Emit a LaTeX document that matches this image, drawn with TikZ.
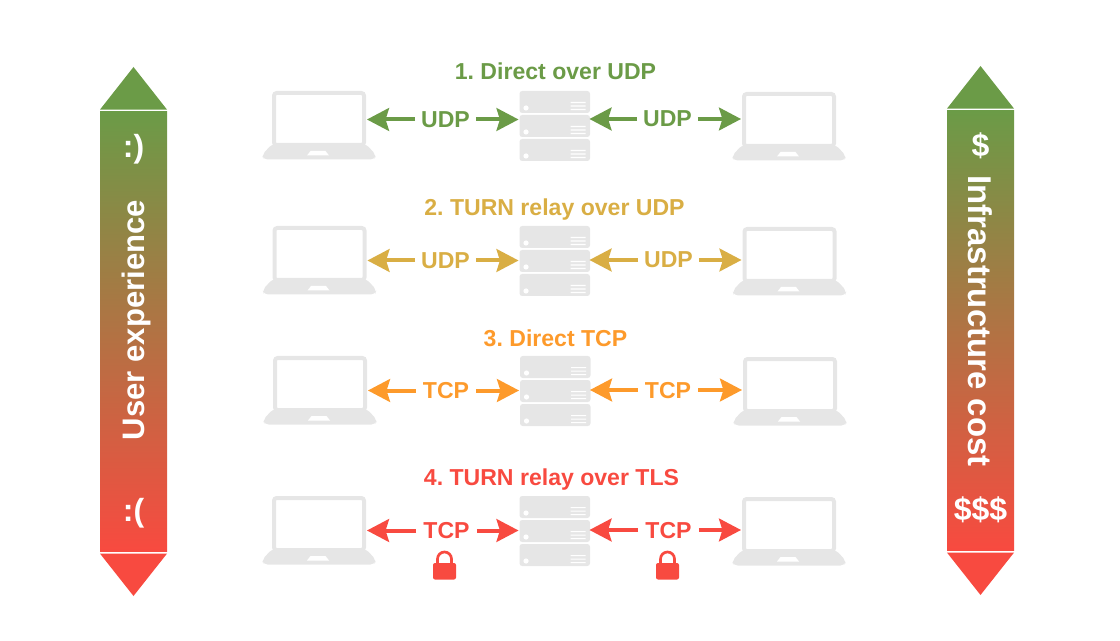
\documentclass[tikz,border=0pt]{standalone}
\usepackage{fontspec}
\setmainfont{Liberation Sans}
\usepackage{tikz}
\usetikzlibrary{calc}
\usetikzlibrary{arrows.meta}
\definecolor{cGreen}{HTML}{6B9B47}
\definecolor{cYellow}{HTML}{D9AE44}
\definecolor{cOrange}{HTML}{FD9A2B}
\definecolor{cRed}{HTML}{F84A40}
\definecolor{cGray}{HTML}{E6E6E6}
\tikzset{
  iconslot/.style={inner sep=0pt, outer sep=0pt},
  linkarrow/.style={line width=3pt, -{Stealth[length=16.5pt,width=17pt,inset=2.5pt]}, shorten >=0.7pt},
  linklabel/.style={font=\bfseries\fontsize{17.3}{20}\selectfont, minimum width=45pt, inner xsep=0pt, inner ysep=0pt, text depth=0pt},
  rowtitle/.style={font=\bfseries\fontsize{17.3}{20}\selectfont, inner sep=0pt, text depth=0pt},
  bartext/.style={font=\bfseries\fontsize{24}{28}\selectfont, text=white, inner sep=0pt},
}
\newcommand{\laptopicon}[3]{ \begin{scope}[shift={(#1,#2)}]
  \node[iconslot, minimum width=70.5pt, minimum height=40.5pt] (#3) at (57,27) {};
  \draw[cGray, line width=3pt, rounded corners=2pt] (12,2) rectangle (102,54);
  \fill[cGray, rounded corners=3pt] (10,53) -- (104,53) -- (114,64) -- (112.5,68.5) -- (1.5,68.5) -- (0,64) -- cycle;
  \fill[white] (48.5,60) -- (63.5,60) -- (67,64.5) -- (45,64.5) -- cycle;
  \end{scope}}
\newcommand{\serverbox}[1]{ \fill[cGray, rounded corners=2pt] (0,#1) rectangle (70.5,#1+22);
  \fill[white] (6.5,#1+17) circle (2.6);
  \fill[white] (51,#1+11) rectangle (66,#1+12.2) (51,#1+14.5) rectangle (66,#1+15.7) (51,#1+18) rectangle (66,#1+19.2);}
\newcommand{\servericon}[3]{ \begin{scope}[shift={(#1,#2)}]
  \node[iconslot, minimum width=51.75pt, minimum height=16.5pt] (#3) at (34.5,35) {};
  \serverbox{0}
  \serverbox{24}
  \serverbox{48}
  \end{scope}}
\newcommand{\lockicon}[2]{ \begin{scope}[shift={(#1,#2)}]
  \fill[cRed, rounded corners=1.5pt] (0,12) rectangle (23,28.5);
  \draw[cRed, line width=2pt] (4.5,13) -- (4.5,8) arc (180:360:7) -- (18.5,13);
  \end{scope}}
\frenchspacing
\begin{document}
\begin{tikzpicture}[x=0.75pt, y=-0.75pt]
\useasboundingbox (0,0) rectangle (1120,641);
% left bar
\fill[cGreen] (100,109.6) -- (133.5,67) -- (167,109.6) -- cycle;
\shade[top color=cGreen, bottom color=cRed] (100,111.6) rectangle (167,551.6);
\fill[cRed] (100,553.6) -- (167,553.6) -- (133.5,596) -- cycle;
\node[bartext] (smileTop) at (133.5,149) {:)};
\node[bartext, rotate=90, font=\bfseries\fontsize{23.3}{28}\selectfont] (userExp) at (136,320) {User experience};
\node[bartext] (smileLow) at (133.5,513) {:(};
% right bar
\fill[cGreen] (947,108.6) -- (980.5,66) -- (1014,108.6) -- cycle;
\shade[top color=cGreen, bottom color=cRed] (947,110.6) rectangle (1014,550.6);
\fill[cRed] (947,552.6) -- (1014,552.6) -- (980.5,595) -- cycle;
\node[bartext] (costLow) at (980.5,146) {\$};
\node[bartext, rotate=-90, font=\bfseries\fontsize{24.7}{28}\selectfont] (infraCost) at (980.5,321) {Infrastructure cost};
\node[bartext] (costHigh) at (980.5,510) {\$\$\$};
% row1
\node[rowtitle, text=cGreen] (titleA) at (555.5,71) {1. Direct over UDP};
\laptopicon{262}{91}{lapAL}
\servericon{519.5}{91}{srvA}
\laptopicon{732}{92}{lapAR}
\node[linklabel, text=cGreen] (udpAL) at (445.5,119.5) {UDP};
\node[linklabel, text=cGreen] (udpAR) at (667.5,119) {UDP};
\draw[linkarrow, cGreen] (udpAL.west) -- (lapAL.east |- udpAL.west);
\draw[linkarrow, cGreen] (udpAL.east) -- (srvA.west |- udpAL.east);
\draw[linkarrow, cGreen] (udpAR.west) -- (srvA.east |- udpAR.west);
\draw[linkarrow, cGreen] (udpAR.east) -- (lapAR.west |- udpAR.east);
% row2
\node[rowtitle, text=cYellow] (titleB) at (554.5,207) {2. TURN relay over UDP};
\laptopicon{262.5}{226}{lapBL}
\servericon{519.5}{226}{srvB}
\laptopicon{732.5}{227}{lapBR}
\node[linklabel, text=cYellow] (udpBL) at (445.5,260.5) {UDP};
\node[linklabel, text=cYellow] (udpBR) at (668.5,260) {UDP};
\draw[linkarrow, cYellow] (udpBL.west) -- (lapBL.east |- udpBL.west);
\draw[linkarrow, cYellow] (udpBL.east) -- (srvB.west |- udpBL.east);
\draw[linkarrow, cYellow] (udpBR.west) -- (srvB.east |- udpBR.west);
\draw[linkarrow, cYellow] (udpBR.east) -- (lapBR.west |- udpBR.east);
% row3
\node[rowtitle, text=cOrange] (titleC) at (555.5,338) {3. Direct TCP};
\laptopicon{263}{356}{lapCL}
\servericon{520}{356}{srvC}
\laptopicon{733}{357}{lapCR}
\node[linklabel, text=cOrange] (tcpCL) at (446,390.5) {TCP};
\node[linklabel, text=cOrange] (tcpCR) at (668,390) {TCP};
\draw[linkarrow, cOrange] (tcpCL.west) -- (lapCL.east |- tcpCL.west);
\draw[linkarrow, cOrange] (tcpCL.east) -- (srvC.west |- tcpCL.east);
\draw[linkarrow, cOrange] (tcpCR.west) -- (srvC.east |- tcpCR.west);
\draw[linkarrow, cOrange] (tcpCR.east) -- (lapCR.west |- tcpCR.east);
% row4
\node[rowtitle, text=cRed] (titleD) at (551.5,477) {4. TURN relay over TLS};
\laptopicon{262}{496}{lapDL}
\servericon{519.5}{496}{srvD}
\laptopicon{732}{497}{lapDR}
\node[linklabel, text=cRed] (tcpDL) at (446.5,530.5) {TCP};
\node[linklabel, text=cRed] (tcpDR) at (668.5,530) {TCP};
\draw[linkarrow, cRed] (tcpDL.west) -- (lapDL.east |- tcpDL.west);
\draw[linkarrow, cRed] (tcpDL.east) -- (srvD.west |- tcpDL.east);
\draw[linkarrow, cRed] (tcpDR.west) -- (srvD.east |- tcpDR.west);
\draw[linkarrow, cRed] (tcpDR.east) -- (lapDR.west |- tcpDR.east);
\lockicon{433}{551}
\lockicon{656}{551}
\end{tikzpicture}
\end{document}
